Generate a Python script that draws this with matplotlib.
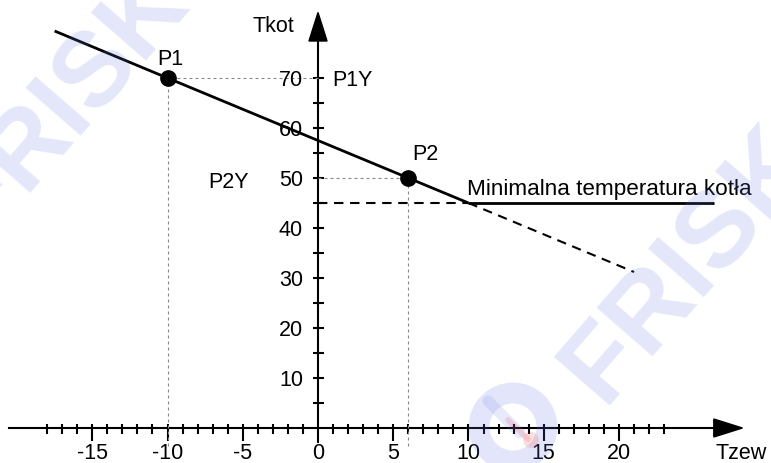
import matplotlib.pyplot as plt
from matplotlib.patches import Circle, Polygon

plt.rcParams['font.family'] = ['Liberation Sans', 'DejaVu Sans']

# punkty krzywej grzewczej
punkty_x = [-10, 6]
punkty_y = [70, 50]
punkty_nazwy = ['P1', 'P2']

# krzywa (linia ciagla) i jej przedluzenie (przerywana)
krzywa_x = [-17.5, -10, 6, 10]
krzywa_y = [79.4, 70, 50, 45]
t_min = 45
min_x = [10, 26.3]
przedl_x = [10, 21]
przedl_y = [45, 31.2]

x_etykiety = [-15, -10, -5, 0, 5, 10, 15, 20]
y_etykiety = [10, 20, 30, 40, 50, 60, 70]
x_male = [v for v in range(-18, 24) if v % 5 != 0]
x_duze = [-15, -10, -5, 5, 10, 15, 20]
y_kreski = list(range(5, 75, 5))

FS = 15.5
fig = plt.figure(figsize=(7.71, 4.64), dpi=100)
ax = fig.add_axes([0, 0, 1, 1])
ax.set_xlim(-21.13, 30.10)
ax.set_ylim(-7.0, 85.8)
ax.axis('off')

# osie ze strzalkami
ax.plot([-20.5, 26.5], [0, 0], color='black', lw=1.5)
ax.plot([0, 0], [-2.8, 77.6], color='black', lw=1.5)
ax.add_patch(Polygon([(26.3, 1.8), (28.2, 0), (26.3, -1.8)], closed=True, color='black'))
ax.add_patch(Polygon([(-0.6, 77.4), (0, 83.1), (0.6, 77.4)], closed=True, color='black'))

# kreski na osiach
ax.vlines(x_male, -1.2, 0.8, color='black', lw=1.5)
ax.vlines(x_duze, -2.6, 0.8, color='black', lw=1.5)
ax.hlines(y_kreski, -0.35, 0.4, color='black', lw=1.5)

for v in x_etykiety:
    ax.text(v, -6.1, str(v), ha='center', va='baseline', fontsize=FS)
for v in y_etykiety:
    ax.text(-1.0, v - 1.5, str(v), ha='right', va='baseline', fontsize=FS)

ax.text(-4.32, 79.4, 'Tkot', ha='left', va='baseline', fontsize=FS)
ax.text(26.4, -6.1, 'Tzew', ha='left', va='baseline', fontsize=FS)

# linie pomocnicze do punktow
for px, py in zip(punkty_x, punkty_y):
    ax.plot([px, px], [-3.6, py], color='#888888', lw=0.8, dashes=(2.7, 2.7))
    ax.plot([0, px], [py, py], color='#888888', lw=0.8, dashes=(2.7, 2.7))

ax.plot([0, min_x[0]], [t_min, t_min], color='black', lw=1.5, dashes=(4.5, 3.2))
ax.plot(przedl_x, przedl_y, color='black', lw=1.5, dashes=(4.5, 3.2))
ax.plot(krzywa_x, krzywa_y, color='black', lw=2.0, solid_capstyle='butt')
ax.plot(min_x, [t_min, t_min], color='black', lw=2.0, solid_capstyle='butt')
ax.plot(punkty_x, punkty_y, 'o', color='black', ms=11)

ax.text(-10.7, 72.8, punkty_nazwy[0], fontsize=FS)
ax.text(6.25, 53.8, punkty_nazwy[1], fontsize=FS)
ax.text(0.93, 68.6, 'P1Y', fontsize=FS)
ax.text(-7.31, 48.2, 'P2Y', fontsize=FS)
ax.text(9.9, 46.8, 'Minimalna temperatura kotła', fontsize=16.2)

# znak wodny
wm = fig.add_axes([0, 0, 1, 1], zorder=10)
wm.set_xlim(0, 771)
wm.set_ylim(464, 0)
wm.axis('off')
wm.patch.set_alpha(0)
niebieski = (105 / 255, 120 / 255, 230 / 255)
rozowy = (230 / 255, 40 / 255, 40 / 255)
for cx, cy, rozm in [(716, 232, 78), (92, 73, 76)]:
    wm.text(cx, cy, 'FRISKO', fontsize=rozm, fontweight='bold', color=niebieski, alpha=0.18,
            rotation=49, rotation_mode='anchor', ha='center', va='center')
wm.add_patch(Circle((513, 428), 34, fill=False, lw=15, ec=niebieski, alpha=0.18))
wm.plot([488, 520], [402, 434], color=niebieski, lw=8, alpha=0.15, solid_capstyle='round')
wm.plot([508, 528], [421, 440], color=rozowy, lw=4, alpha=0.15, solid_capstyle='round')
wm.add_patch(Circle((531, 441), 8, color=rozowy, alpha=0.15, lw=0))

fig.savefig('out.png', dpi=100)
